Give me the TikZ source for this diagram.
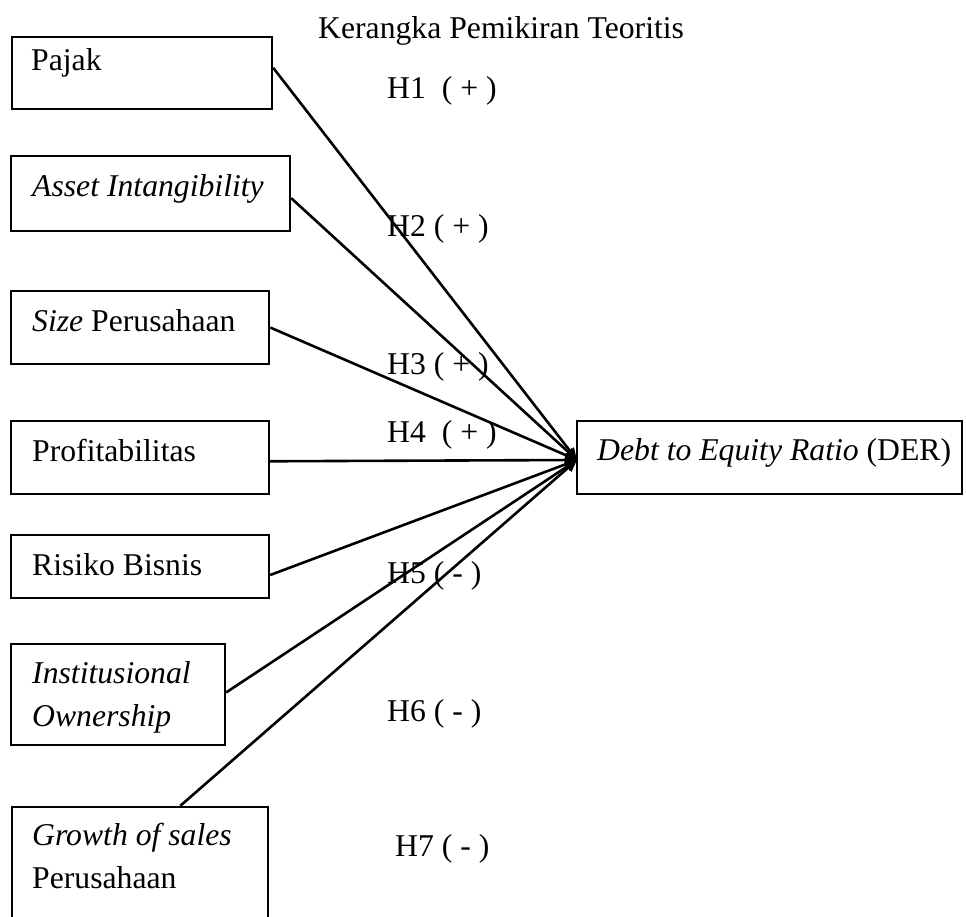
\documentclass[tikz,border=0pt]{standalone}
\usepackage{fontspec}
\setmainfont{Liberation Serif}
\usetikzlibrary{arrows.meta,calc}
\begin{document}
\begin{tikzpicture}[x=1pt,y=-1pt,
  box/.style={draw,line width=2.4pt,rectangle,inner sep=0pt},
  txt/.style={anchor=base west,inner sep=0pt,font=\fontsize{31.7pt}{38pt}\selectfont},
  link/.style={line width=2.6pt,-{Triangle[length=12pt,width=10pt]}}]
\useasboundingbox (0,0) rectangle (966,917);
\clip (0,0) rectangle (966,917);
% boxes
\node[box,minimum width=260pt,minimum height=72pt] (pajak) at (142,73) {};
\node[box,minimum width=279pt,minimum height=75pt] (asset) at (150.5,193.5) {};
\node[box,minimum width=258pt,minimum height=73pt] (size) at (140,327.5) {};
\node[box,minimum width=258pt,minimum height=73pt] (profit) at (140,457.5) {};
\node[box,minimum width=258pt,minimum height=63pt] (risiko) at (140,566.5) {};
\node[box,minimum width=214pt,minimum height=101pt] (inst) at (118,694.5) {};
\node[box,minimum width=256pt,minimum height=133pt] (growth) at (140,873.5) {};
\node[box,minimum width=385pt,minimum height=73pt] (der) at (769.5,457.5) {};
% texts
\node[txt] (title) at (318,39) {Kerangka Pemikiran Teoritis};
\node[txt] (tpajak) at (31,71) {Pajak};
\node[txt] (tasset) at (32,197) {\itshape Asset Intangibility};
\node[txt] (tsize) at (32,331) {\textit{Size} Perusahaan};
\node[txt] (tprofit) at (32,461) {Profitabilitas};
\node[txt] (trisiko) at (32,575) {Risiko Bisnis};
\node[txt] (tinst1) at (32,683) {\itshape Institusional};
\node[txt] (tinst2) at (32,726) {\itshape Ownership};
\node[txt] (tgrowth1) at (32,845) {\itshape Growth of sales};
\node[txt] (tgrowth2) at (32,888) {Perusahaan};
\node[txt] (tder) at (597,460) {\textit{Debt to Equity Ratio} (DER)};
% hypothesis labels
\node[txt] (h1) at (387,99) {H1\ \ ( + )};
\node[txt] (h2) at (387,237) {H2 ( + )};
\node[txt] (h3) at (387,374) {H3 ( + )};
\node[txt] (h4) at (387,442) {H4\ \ ( + )};
\node[txt] (h5) at (387,583) {H5 ( - )};
\node[txt] (h6) at (387,721) {H6 ( - )};
\node[txt] (h7) at (395,856) {H7 ( - )};
% connectors
\coordinate (tip) at (577,460);
\draw[link] ($(pajak.north east)!0.43!(pajak.south east)$) -- (tip);
\draw[link] ($(asset.north east)!0.56!(asset.south east)$) -- (tip);
\draw[link] ($(size.north east)!0.5!(size.south east)$) -- (tip);
\draw[link] ($(profit.north east)!0.55!(profit.south east)$) -- (tip);
\draw[link] ($(risiko.north east)!0.63!(risiko.south east)$) -- (tip);
\draw[link] ($(inst.north east)!0.48!(inst.south east)$) -- (tip);
\draw[link] ($(growth.north west)!0.656!(growth.north east)$) -- (tip);
\end{tikzpicture}
\end{document}
